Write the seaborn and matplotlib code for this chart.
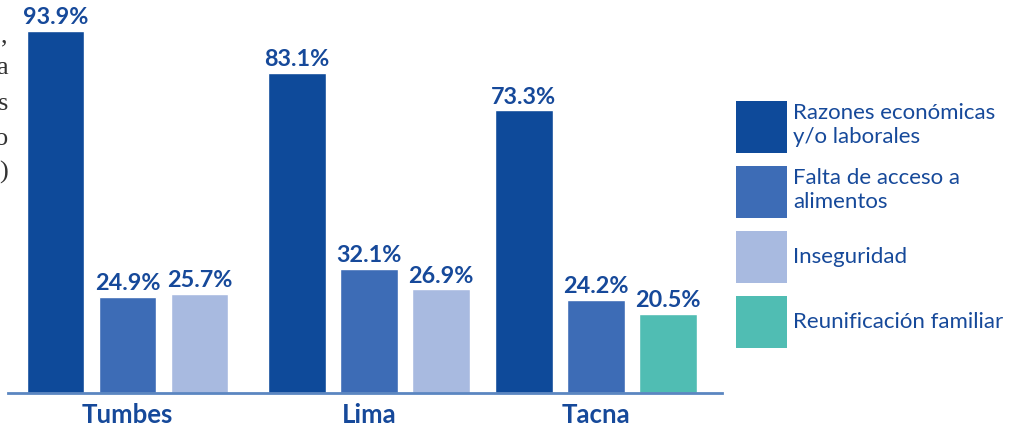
import matplotlib
matplotlib.use("Agg")
import matplotlib.pyplot as plt
from matplotlib.patches import Patch
import seaborn as sns
import pandas as pd

# datos
regiones = ["Tumbes", "Lima", "Tacna"]
causas = ["Razones económicas\ny/o laborales", "Falta de acceso a\nalimentos",
          "Inseguridad", "Reunificación familiar"]
tumbes = [93.9, 24.9, 25.7]
lima = [83.1, 32.1, 26.9]
tacna = [73.3, 24.2, 20.5]
causas_tumbes = [0, 1, 2]
causas_lima = [0, 1, 2]
causas_tacna = [0, 1, 3]

colores = ["#0e4a9a", "#3d6cb6", "#a8bae0", "#50bdb3"]
azul_txt = "#16499a"

offsets = [0.0, 3.35, 6.5]
filas = []
for g, (reg, vals, cs) in enumerate(zip(regiones, [tumbes, lima, tacna],
                                        [causas_tumbes, causas_lima, causas_tacna])):
    for i, (v, c) in enumerate(zip(vals, cs)):
        filas.append({"region": reg, "causa": causas[c], "valor": v,
                      "pos": offsets[g] + i})
df = pd.DataFrame(filas)

sns.set_style("white")
plt.rcParams["font.family"] = ["Lato", "DejaVu Sans"]

fig = plt.figure(figsize=(10.09, 4.28), dpi=100)
ax = fig.add_axes([8 / 1009, 35 / 428, 714 / 1009, 393 / 428])

sns.barplot(data=df, x="pos", y="valor", hue="causa", hue_order=causas,
            palette=colores, native_scale=True, dodge=False, width=0.8,
            legend=False, ax=ax, saturation=1)

for cont in ax.containers:
    ax.bar_label(cont, fmt="%.1f%%", padding=2, color=azul_txt,
                 fontsize=16.8, fontweight="bold")

ax.set_xlim(-0.66, 9.25)
ax.set_ylim(0, 101.95)
ax.set_xticks([o + 1 for o in offsets])
ax.set_xticklabels(regiones, fontsize=18.5, fontweight="bold", color=azul_txt)
ax.set_yticks([])
ax.set_xlabel("")
ax.set_ylabel("")
ax.tick_params(axis="x", length=0, pad=7)
for s in ["top", "left", "right"]:
    ax.spines[s].set_visible(False)
ax.spines["bottom"].set_color("#5b86c1")
ax.spines["bottom"].set_linewidth(2)

handles = [Patch(facecolor=c, edgecolor="none") for c in colores]
leg = fig.legend(handles, causas, loc="upper left",
                 bbox_to_anchor=(736 / 1009, 1 - 101 / 428), frameon=False,
                 fontsize=16, handlelength=2.3, handleheight=3.2,
                 handletextpad=0.28, labelspacing=0.6, borderaxespad=0,
                 borderpad=0)
for t in leg.get_texts():
    t.set_color(azul_txt)
    t.set_linespacing(1.25)

# fragmentos de texto cortado a la izquierda
for ch, y in zip([",", "a", "s", "o", ")"], [36, 68, 104, 139, 172]):
    fig.text(8 / 1009, 1 - y / 428, ch, ha="right", va="center",
             fontsize=19, color="#333333", family="Liberation Serif")

fig.savefig("out.png", dpi=100)
